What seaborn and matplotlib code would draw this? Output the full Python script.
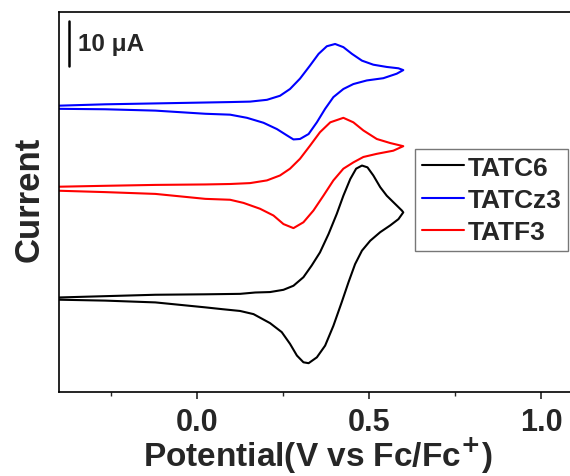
import numpy as np
import pandas as pd
import matplotlib
matplotlib.use("Agg")
import matplotlib.pyplot as plt
import seaborn as sns
from matplotlib.ticker import MultipleLocator
from matplotlib.lines import Line2D

sns.set_style("ticks")
plt.rcParams['font.family'] = ['Liberation Sans', 'DejaVu Sans']
plt.rcParams['font.weight'] = 'bold'

# ---- data (potential in V vs Fc/Fc+, current in uA incl. vertical offset) ----
names = ["TATC6", "TATCz3", "TATF3"]
colors = ["black", "blue", "red"]

v_c6 = [-0.399, -0.120, 0.025, 0.126, 0.170, 0.213, 0.252, 0.281, 0.310, 0.334, 0.358,
        0.383, 0.407, 0.426, 0.446, 0.463, 0.480, 0.496, 0.513, 0.533, 0.552, 0.576,
        0.596, 0.600,
        0.586, 0.562, 0.533, 0.504, 0.480, 0.460, 0.441, 0.421, 0.397, 0.373, 0.349,
        0.325, 0.310, 0.291, 0.271, 0.247, 0.213, 0.165, 0.126, 0.074, 0.025, -0.120,
        -0.266, -0.399]
i_c6 = [21.0, 21.6, 21.7, 21.8, 22.1, 22.2, 22.7, 23.6, 25.5, 28.1, 31.0,
        35.1, 39.6, 43.6, 47.3, 49.6, 50.3, 49.9, 48.1, 45.5, 43.6, 41.8,
        40.3, 39.9,
        38.4, 37.0, 35.5, 33.6, 31.4, 28.4, 24.4, 19.9, 14.7, 10.3, 7.7,
        6.4, 6.6, 8.1, 10.7, 13.3, 15.3, 17.3, 18.0, 18.4, 18.8, 19.9,
        20.3, 20.5]

v_cz3 = [-0.399, -0.266, -0.120, 0.025, 0.097, 0.155, 0.204, 0.242, 0.271, 0.300, 0.329,
         0.354, 0.378, 0.402, 0.426, 0.451, 0.480, 0.513, 0.552, 0.586, 0.600,
         0.581, 0.542, 0.494, 0.455, 0.426, 0.397, 0.373, 0.349, 0.325, 0.300, 0.281,
         0.262, 0.233, 0.194, 0.146, 0.097, 0.025, -0.120, -0.266, -0.399]
i_cz3 = [63.6, 63.9, 64.1, 64.3, 64.4, 64.5, 64.9, 65.8, 67.3, 69.6, 72.5,
         75.1, 76.8, 77.3, 76.6, 75.1, 73.6, 72.7, 72.2, 71.9, 71.5,
         70.7, 69.7, 69.2, 68.4, 67.3, 65.5, 62.9, 59.9, 57.3, 56.2, 56.1,
         57.0, 58.4, 59.8, 60.9, 61.6, 61.8, 62.5, 62.8, 62.9]

v_f3 = [-0.399, -0.266, -0.120, 0.025, 0.097, 0.155, 0.204, 0.242, 0.271, 0.300, 0.329,
        0.358, 0.388, 0.426, 0.455, 0.484, 0.523, 0.562, 0.600,
        0.571, 0.523, 0.484, 0.455, 0.426, 0.397, 0.368, 0.339, 0.310, 0.281, 0.252,
        0.223, 0.184, 0.136, 0.097, 0.025, -0.120, -0.266, -0.399]
i_f3 = [45.6, 45.8, 46.0, 46.1, 46.2, 46.4, 47.0, 48.1, 49.6, 51.8, 54.7,
        57.7, 59.9, 60.9, 59.9, 58.1, 56.2, 55.3, 54.6,
        53.6, 52.9, 52.2, 51.0, 49.6, 47.0, 43.6, 40.3, 37.7, 36.4, 37.3,
        39.2, 40.7, 42.0, 42.7, 42.9, 44.0, 44.4, 44.7]

xticks = [0.0, 0.5, 1.0]
xticklabels = ["0.0", "0.5", "1.0"]

frames = []
for nm, v, i in zip(names, [v_c6, v_cz3, v_f3], [i_c6, i_cz3, i_f3]):
    frames.append(pd.DataFrame({"V": v, "I": i, "compound": nm, "order": range(len(v))}))
df = pd.concat(frames, ignore_index=True)

fig = plt.figure(figsize=(5.70, 4.77), dpi=100)
ax = fig.add_axes([0.1035, 0.1761, 0.906, 0.7966])

sns.lineplot(data=df, x="V", y="I", hue="compound", hue_order=names,
             palette=dict(zip(names, colors)), sort=False, estimator=None,
             units="compound", linewidth=1.5, ax=ax, legend=False)
for ln in ax.get_lines():
    ln.set_solid_joinstyle('round')

ax.set_xlim(-0.4, 1.1)
ax.set_ylim(0, 84.4)
ax.set_xticks(xticks)
ax.set_xticklabels(xticklabels)
ax.xaxis.set_minor_locator(MultipleLocator(0.25))
ax.set_yticks([])
ax.tick_params(axis='x', which='major', direction='out', length=5, width=1.2,
               labelsize=22, pad=6)
ax.tick_params(axis='x', which='minor', direction='out', length=3, width=1.0)
for lab in ax.get_xticklabels():
    lab.set_fontweight('bold')
for s in ax.spines.values():
    s.set_linewidth(1.2)
    s.set_color('black')

ax.set_xlabel("Potential(V vs Fc/Fc$^{\\mathbf{+}}$)", fontsize=24, fontweight='bold', labelpad=-1)
ax.set_ylabel("Current", fontsize=25, fontweight='bold')
ax.yaxis.set_label_coords(-0.026, 0.51)

# scale bar 10 uA
ax.plot([-0.372, -0.372], [72.5, 82.5], color='black', linewidth=1.8)
ax.text(-0.345, 77.4, "10 \u03bcA", fontsize=17.5, fontweight='bold', va='center', ha='left')

# legend
handles = [Line2D([], [], color=c, linewidth=1.5) for c in colors]
leg = fig.legend(handles, names, loc='upper left',
                 bbox_to_anchor=(415 / 570, 1 - 150 / 477),
                 frameon=True, fancybox=False, borderpad=0.25, handlelength=1.6,
                 handletextpad=0.15, labelspacing=0.31, borderaxespad=0,
                 prop={'size': 19, 'weight': 'bold'})
leg.get_frame().set_edgecolor('#555555')
leg.get_frame().set_linewidth(1.0)

fig.savefig("out.png", dpi=100)
